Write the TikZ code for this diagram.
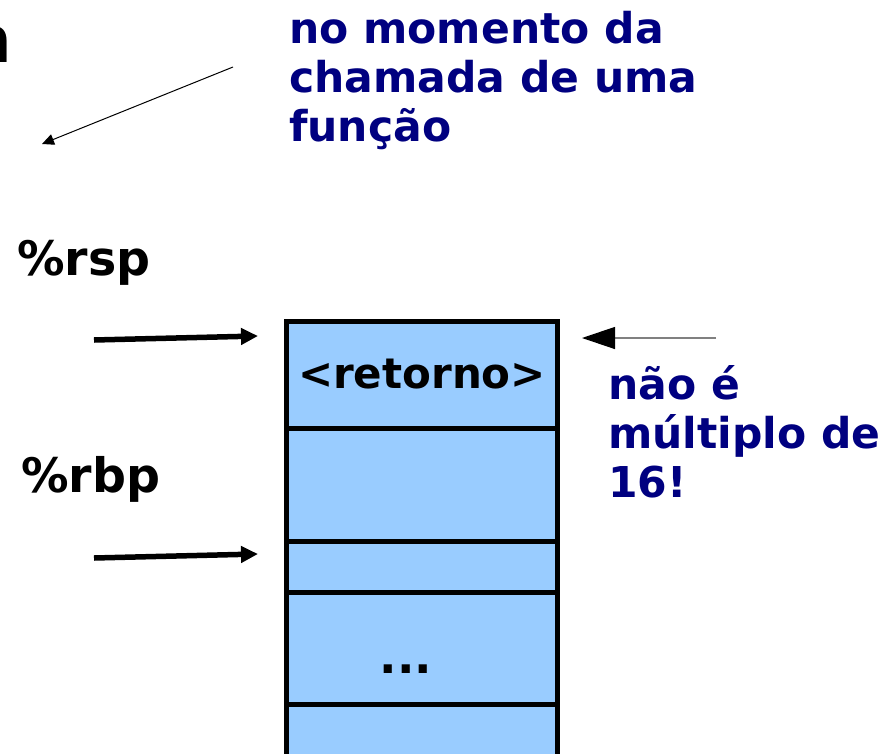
\documentclass[tikz,border=0pt]{standalone}
\usepackage{fontspec}
\setmainfont{DejaVu Sans}
\usetikzlibrary{arrows.meta}
\definecolor{notecol}{HTML}{000080}
\definecolor{cellfill}{HTML}{99CCFF}
\tikzset{
  cell/.style={draw=black,fill=cellfill,line width=5pt,minimum width=271pt,
    outer sep=0pt,inner sep=0pt,anchor=north west},
  reglbl/.style={font=\fontsize{47.5}{54}\selectfont\bfseries,inner sep=0pt,anchor=base west},
  celltxt/.style={font=\fontsize{42}{49}\selectfont\bfseries,inner sep=0pt,anchor=base},
  note/.style={text=notecol,font=\fontsize{42.5}{49}\selectfont\bfseries,inner sep=0pt,
    align=left,anchor=base west},
  ptr/.style={line width=5.5pt,-{Triangle[length=17pt,width=16pt]}},
}
\begin{document}
\begin{tikzpicture}[x=1pt,y=-1pt]
\useasboundingbox (0,0) rectangle (895,753);

% end of the cut title
\node[font=\fontsize{64}{64}\selectfont\bfseries,inner sep=0pt,anchor=base east] (title) at (12,62) {n};

% stack
\node[cell,minimum height=107pt] (ret) at (286,321) {};
\node[cell,minimum height=113pt] (free) at (286,428) {};
\node[cell,minimum height=51pt] (old) at (286,541) {};
\node[cell,minimum height=112pt] (dots) at (286,592) {};
\node[cell,minimum height=80pt] (low) at (286,704) {};
\node[celltxt] (rettxt) at (422,388) {<retorno>};
\node[celltxt,font=\fontsize{46}{49}\selectfont\bfseries] (dotstxt) at (406,673) {...};

% registers
\node[reglbl] (rsp) at (17,275) {\%rsp};
\node[reglbl] (rbp) at (21,492) {\%rbp};
\coordinate (rspfrom) at (94,340);
\coordinate (rspto) at (258,336);
\coordinate (rbpfrom) at (94,558);
\coordinate (rbpto) at (258,554);
\draw[ptr] (rspfrom) -- (rspto);
\draw[ptr] (rbpfrom) -- (rbpto);

% notes (base = last line)
\node[note] (callnote) at (289,141) {no momento da\\chamada de uma\\função};
\coordinate (calltail) at (233,67);
\coordinate (callhead) at (42,144);
\draw[line width=1pt,-{Triangle[length=12pt,width=11pt]}] (calltail) -- (callhead);

\node[note] (alignnote) at (608,497) {não é\\múltiplo de\\16!};
\coordinate (aligntail) at (716,338);
\coordinate (alignhead) at (582,338);
\draw[gray,line width=1.3pt,-{Triangle[length=33pt,width=22pt,black]}] (aligntail) -- (alignhead);

\end{tikzpicture}
\end{document}
